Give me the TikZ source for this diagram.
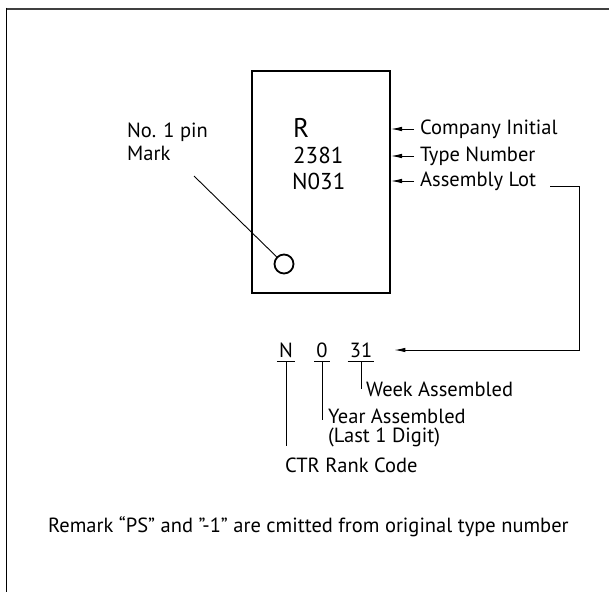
\documentclass[tikz,border=0pt]{standalone}
\usepackage{fontspec}
\setmainfont{PT Sans}
\usetikzlibrary{arrows.meta, positioning}

\tikzset{
  txt/.style={inner sep=0pt, font=\fontsize{20.5}{23}\selectfont},
  chiptxt/.style={inner sep=0pt, anchor=west, font=\fontsize{23}{23}\selectfont},
  digit/.style={txt, inner xsep=2pt, inner ysep=4pt},
  pointer/.style={line width=0.9pt, -{Latex[length=11pt, width=4.5pt]}},
  thinline/.style={line width=0.9pt},
}

\begin{document}
\begin{tikzpicture}[x=1pt, y=-1pt]
\useasboundingbox (0,0) rectangle (609,592);
% frame
\draw[black!75, line width=2pt] (6,8.5) -- (609,8.5);
\draw[line width=1.6pt] (6.5,7.5) -- (6.5,592);
% chip
\node[draw, line width=2pt, minimum width=138pt, minimum height=222pt, inner sep=0pt] (chip) at (321,182) {};
\node[chiptxt, font=\fontsize{27}{27}\selectfont] (ini) at (293,128) {R};
\node[chiptxt] (type) at (293,155) {2381};
\node[chiptxt] (lot) at (292,181) {N031};
\node[circle, draw, line width=1.8pt, minimum size=19pt, inner sep=0pt] (pin) at (284,264) {};
% pin mark
\node[txt, anchor=north west, align=left] (pinlbl) at (127,123) {No. 1 pin\\Mark};
\coordinate (lead) at (194,176);
\draw[thinline] (lead) -- (pin);
% right labels
\node[txt, anchor=west] (lblini) at (420,129) {Company Initial};
\node[txt, anchor=west] (lbltype) at (420,156) {Type Number};
\node[txt, anchor=west] (lbllot) at (420,181) {Assembly Lot};
\draw[pointer] ([xshift=-6pt]lblini.west) -- (lblini.west -| chip.east);
\draw[pointer] ([xshift=-6pt]lbltype.west) -- (lbltype.west -| chip.east);
\draw[pointer] ([xshift=-6pt]lbllot.west) -- (lbllot.west -| chip.east);
% lot code
\node[digit] (dn) at (286,350) {N};
\node[digit] (d0) at (322,350) {0};
\node[digit] (d31) at (361,350) {31};
\coordinate (bend) at (579,350);
\draw[pointer] ([xshift=14pt, yshift=-5pt]lbllot.east) -| (bend) -- ([xshift=20pt]d31.east);
\draw[thinline] (dn.south west) -- (dn.south east);
\draw[thinline] (d0.south west) -- (d0.south east);
\draw[thinline] (d31.south west) -- (d31.south east);
% meanings
\node[txt, anchor=west] (week) at (366,389) {Week Assembled};
\node[txt, anchor=west] (year) at (328,416) {Year Assembled};
\node[txt, anchor=west] (last) at (328,437) {(Last 1 Digit)};
\node[txt, anchor=west] (rank) at (285,465) {CTR Rank Code};
\coordinate (nend) at ([yshift=11pt]rank.north);
\draw[thinline] (d31.south) -- (d31.south |- week.west);
\draw[thinline] (d0.south) -- ([yshift=-4pt]d0.south |- year.west);
\draw[thinline] (dn.south) -- (dn.south |- nend);
% remark
\node[txt, anchor=west] (remark) at (48,527) {Remark “PS” and ”-1” are cmitted from original type number};
\end{tikzpicture}
\end{document}
